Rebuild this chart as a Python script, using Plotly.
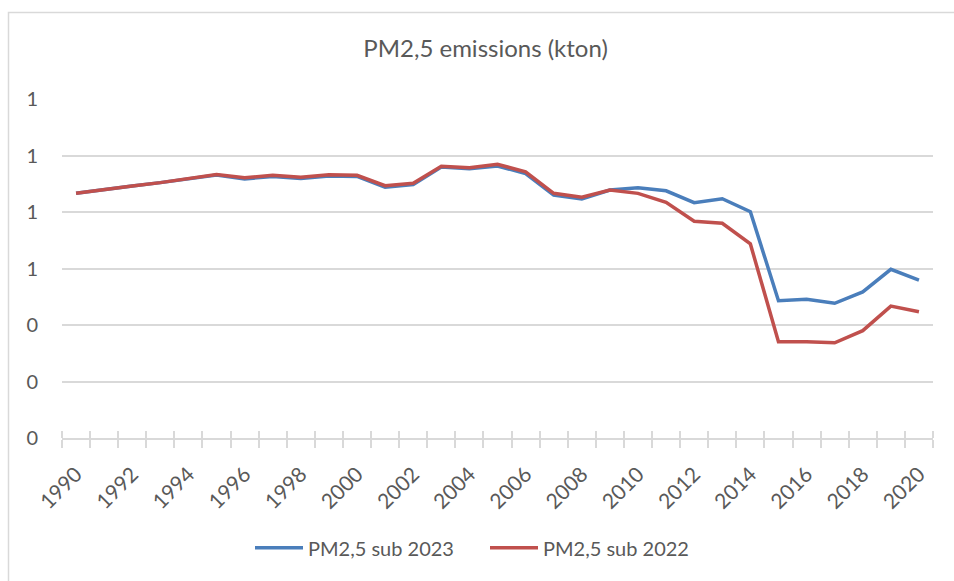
import plotly.graph_objects as go

# Years and PM2,5 emission series (kton)
years = list(range(1990, 2021))
sub_2023 = [0.866, 0.880, 0.892, 0.904, 0.917, 0.931, 0.917, 0.926, 0.919, 0.927,
            0.926, 0.888, 0.897, 0.959, 0.953, 0.963, 0.936, 0.860, 0.846, 0.878,
            0.886, 0.875, 0.833, 0.847, 0.801, 0.486, 0.491, 0.477, 0.517, 0.597,
            0.559]
sub_2022 = [0.866, 0.880, 0.892, 0.904, 0.917, 0.933, 0.921, 0.930, 0.923, 0.932,
            0.930, 0.893, 0.902, 0.962, 0.957, 0.969, 0.942, 0.866, 0.852, 0.878,
            0.866, 0.834, 0.767, 0.760, 0.687, 0.341, 0.341, 0.337, 0.380, 0.467,
            0.447]
year_ticks = list(range(1990, 2021, 2))

FONT = "Lato, 'Open Sans', sans-serif"
TXT = "#595959"
GRID = "#d9d9d9"

fig = go.Figure()
fig.add_trace(go.Scatter(x=years, y=sub_2023, mode="lines", name="PM2,5 sub 2023",
                         line=dict(color="#4a7ebb", width=3.5)))
fig.add_trace(go.Scatter(x=years, y=sub_2022, mode="lines", name="PM2,5 sub 2022",
                         line=dict(color="#c0504d", width=3.5)))
# invisible trace carrying the overlay axis used for the inner half of the tick marks
fig.add_trace(go.Scatter(x=years, y=sub_2023, mode="lines", xaxis="x2",
                         line=dict(width=0), showlegend=False, hoverinfo="skip",
                         opacity=0))

fig.update_layout(
    width=954, height=581,
    margin=dict(l=62, r=21, t=99, b=143),
    paper_bgcolor="white", plot_bgcolor="white",
    font=dict(family=FONT, size=20, color=TXT),
    title=dict(text="PM2,5 emissions (kton)", x=0.509, xanchor="center",
               y=1 - 49 / 581, yanchor="middle",
               font=dict(family=FONT, size=24, color=TXT)),
    xaxis=dict(range=[1989.5, 2020.5], tickmode="array", tickvals=year_ticks,
               ticktext=[str(y) for y in year_ticks], tickangle=-45,
               ticks="", showgrid=False, zeroline=False,
               showline=True, linecolor=GRID, linewidth=1.5,
               ticklabelstandoff=14,
               tickfont=dict(family=FONT, size=21, color=TXT),
               minor=dict(tick0=1989.5, dtick=1, ticks="outside", ticklen=8,
                          tickcolor=GRID, tickwidth=1.5, showgrid=False)),
    xaxis2=dict(overlaying="x", matches="x", side="bottom", showticklabels=False,
                ticks="", showgrid=False, zeroline=False, showline=False,
                minor=dict(tick0=1989.5, dtick=1, ticks="inside", ticklen=7,
                           tickcolor=GRID, tickwidth=1.5, showgrid=False)),
    yaxis=dict(range=[0, 1.2], dtick=0.2, tick0=0, tickformat=".0f",
               showgrid=True, gridcolor=GRID, gridwidth=1.5, zeroline=False,
               showline=False, ticks="", ticklabelstandoff=23,
               tickfont=dict(family=FONT, size=20, color=TXT)),
    legend=dict(orientation="h", x=(250 - 62) / 871, xanchor="left", y=-0.324,
                yanchor="middle", font=dict(family=FONT, size=20, color=TXT),
                itemwidth=48, entrywidth=172, entrywidthmode="pixels",
                traceorder="normal"),
    showlegend=True,
    shapes=[dict(type="rect", xref="paper", yref="paper",
                 x0=(8.5 - 62) / 871, x1=1.2, y0=-0.6, y1=(438 - 12.5) / 339,
                 line=dict(color=GRID, width=1.5), layer="below")],
)

fig.write_html("out.html")
